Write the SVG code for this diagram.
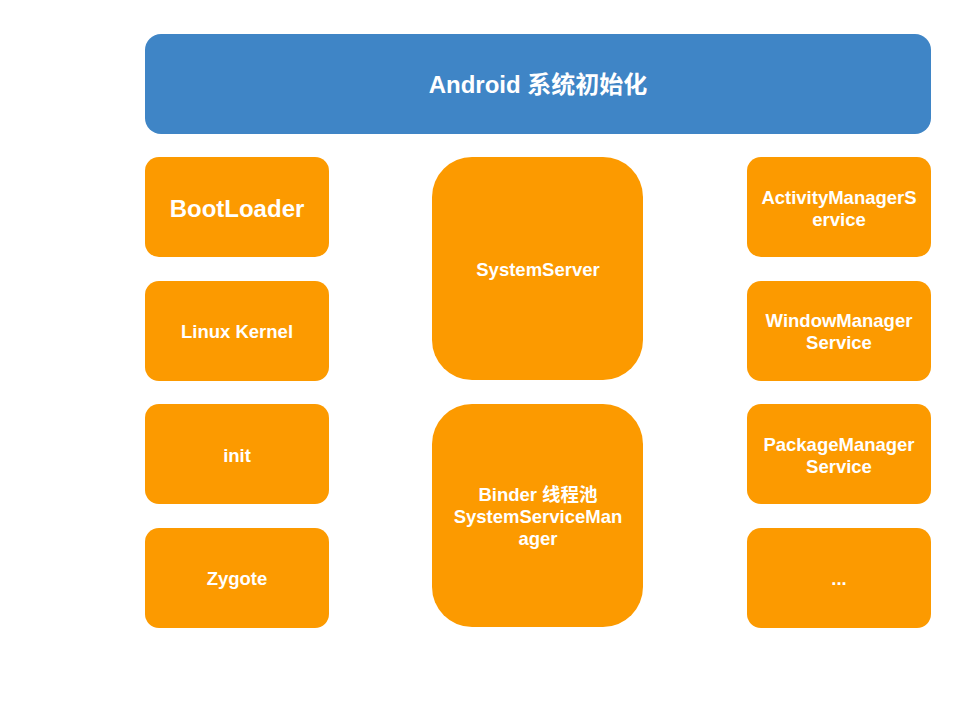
<svg xmlns="http://www.w3.org/2000/svg" width="960" height="720" viewBox="0 0 960 720">
<style>
.b{fill:#fc9a00}
.t{font-family:"Liberation Sans","Noto Sans CJK SC",Arial,sans-serif;font-weight:bold;fill:#fff;text-anchor:middle;dominant-baseline:central;font-size:18.5px}
.l{font-size:24px}
</style>
<rect width="960" height="720" fill="#fff"/>
<g id="header"><rect x="145" y="34" width="786" height="100" rx="16" fill="#3f85c6"/><text class="t l" x="538" y="84">Android 系统初始化</text></g>
<g id="bootloader"><rect class="b" x="145" y="157" width="184" height="100" rx="14"/><text class="t l" x="237" y="208">BootLoader</text></g>
<g id="kernel"><rect class="b" x="145" y="281" width="184" height="100" rx="14"/><text class="t" x="237" y="331">Linux Kernel</text></g>
<g id="init"><rect class="b" x="145" y="404" width="184" height="100" rx="14"/><text class="t" x="237" y="455">init</text></g>
<g id="zygote"><rect class="b" x="145" y="528" width="184" height="100" rx="14"/><text class="t" x="237" y="578">Zygote</text></g>
<g id="systemserver"><rect class="b" x="432" y="157" width="211" height="223" rx="40"/><text class="t" x="538" y="269">SystemServer</text></g>
<g id="binder"><rect class="b" x="432" y="404" width="211" height="223" rx="40"/><text class="t" x="538" y="494">Binder 线程池</text><text class="t" x="538" y="516">SystemServiceMan</text><text class="t" x="538" y="538">ager</text></g>
<g id="ams"><rect class="b" x="747" y="157" width="184" height="100" rx="14"/><text class="t" x="839" y="197">ActivityManagerS</text><text class="t" x="839" y="219">ervice</text></g>
<g id="wms"><rect class="b" x="747" y="281" width="184" height="100" rx="14"/><text class="t" x="839" y="320">WindowManager</text><text class="t" x="839" y="342">Service</text></g>
<g id="pms"><rect class="b" x="747" y="404" width="184" height="100" rx="14"/><text class="t" x="839" y="444">PackageManager</text><text class="t" x="839" y="466">Service</text></g>
<g id="more"><rect class="b" x="747" y="528" width="184" height="100" rx="14"/><text class="t" x="839" y="578">...</text></g>
<g id="connectors"/>
</svg>
